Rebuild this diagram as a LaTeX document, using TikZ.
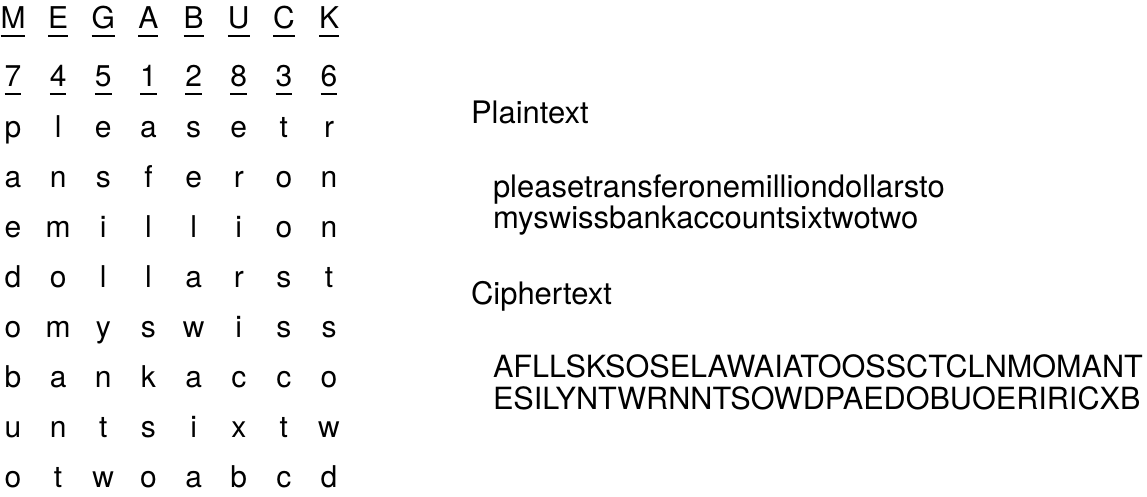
\documentclass[tikz,border=0pt]{standalone}
\usepackage{fontspec}
\setmainfont{TeX Gyre Heros}
\begin{document}
\begin{tikzpicture}[x=1pt,y=-1pt,
  every node/.style={inner sep=0pt, outer sep=0pt},
  cell/.style={anchor=base, font=\fontsize{30}{36}\selectfont},
  txt/.style={anchor=base west, font=\fontsize{31}{37}\selectfont},
  ctxt/.style={anchor=base west, font=\fontsize{30.6}{37}\selectfont},
  uline/.style={line width=1.6pt}]
\useasboundingbox (0,0) rectangle (1147,496);
\foreach \row [count=\r] in {{M,E,G,A,B,U,C,K},{7,4,5,1,2,8,3,6},{p,l,e,a,s,e,t,r},{a,n,s,f,e,r,o,n},{e,m,i,l,l,i,o,n},{d,o,l,l,a,r,s,t},{o,m,y,s,w,i,s,s},{b,a,n,k,a,c,c,o},{u,n,t,s,i,x,t,w},{o,t,w,o,a,b,c,d}}{
  \pgfmathsetmacro\yy{\r==1 ? 28 : (\r==2 ? 86 : 137+50*(\r-3))}
  \foreach \ch [count=\c] in \row {
    \pgfmathsetmacro\xx{13+45.15*(\c-1)}
    \node[cell] (c-\r-\c) at (\xx,\yy) {\ch};
    \ifnum\r<3
      \draw[uline] ([yshift=-8pt]c-\r-\c.base west) -- ([yshift=-8pt]c-\r-\c.base east);
    \fi
  }
}
\node[txt] (plainlabel) at (471,123) {Plaintext};
\node[txt] (plain1) at (493,197) {pleasetransferonemilliondollarsto};
\node[txt] (plain2) at (493,228) {myswissbankaccountsixtwotwo};
\node[txt] (cipherlabel) at (471,304) {Ciphertext};
\node[ctxt] (cipher1) at (493,377) {AFLLSKSOSELAWAIATOOSSCTCLNMOMANT};
\node[ctxt] (cipher2) at (493,409) {ESILYNTWRNNTSOWDPAEDOBUOERIRICXB};
\end{tikzpicture}
\end{document}
